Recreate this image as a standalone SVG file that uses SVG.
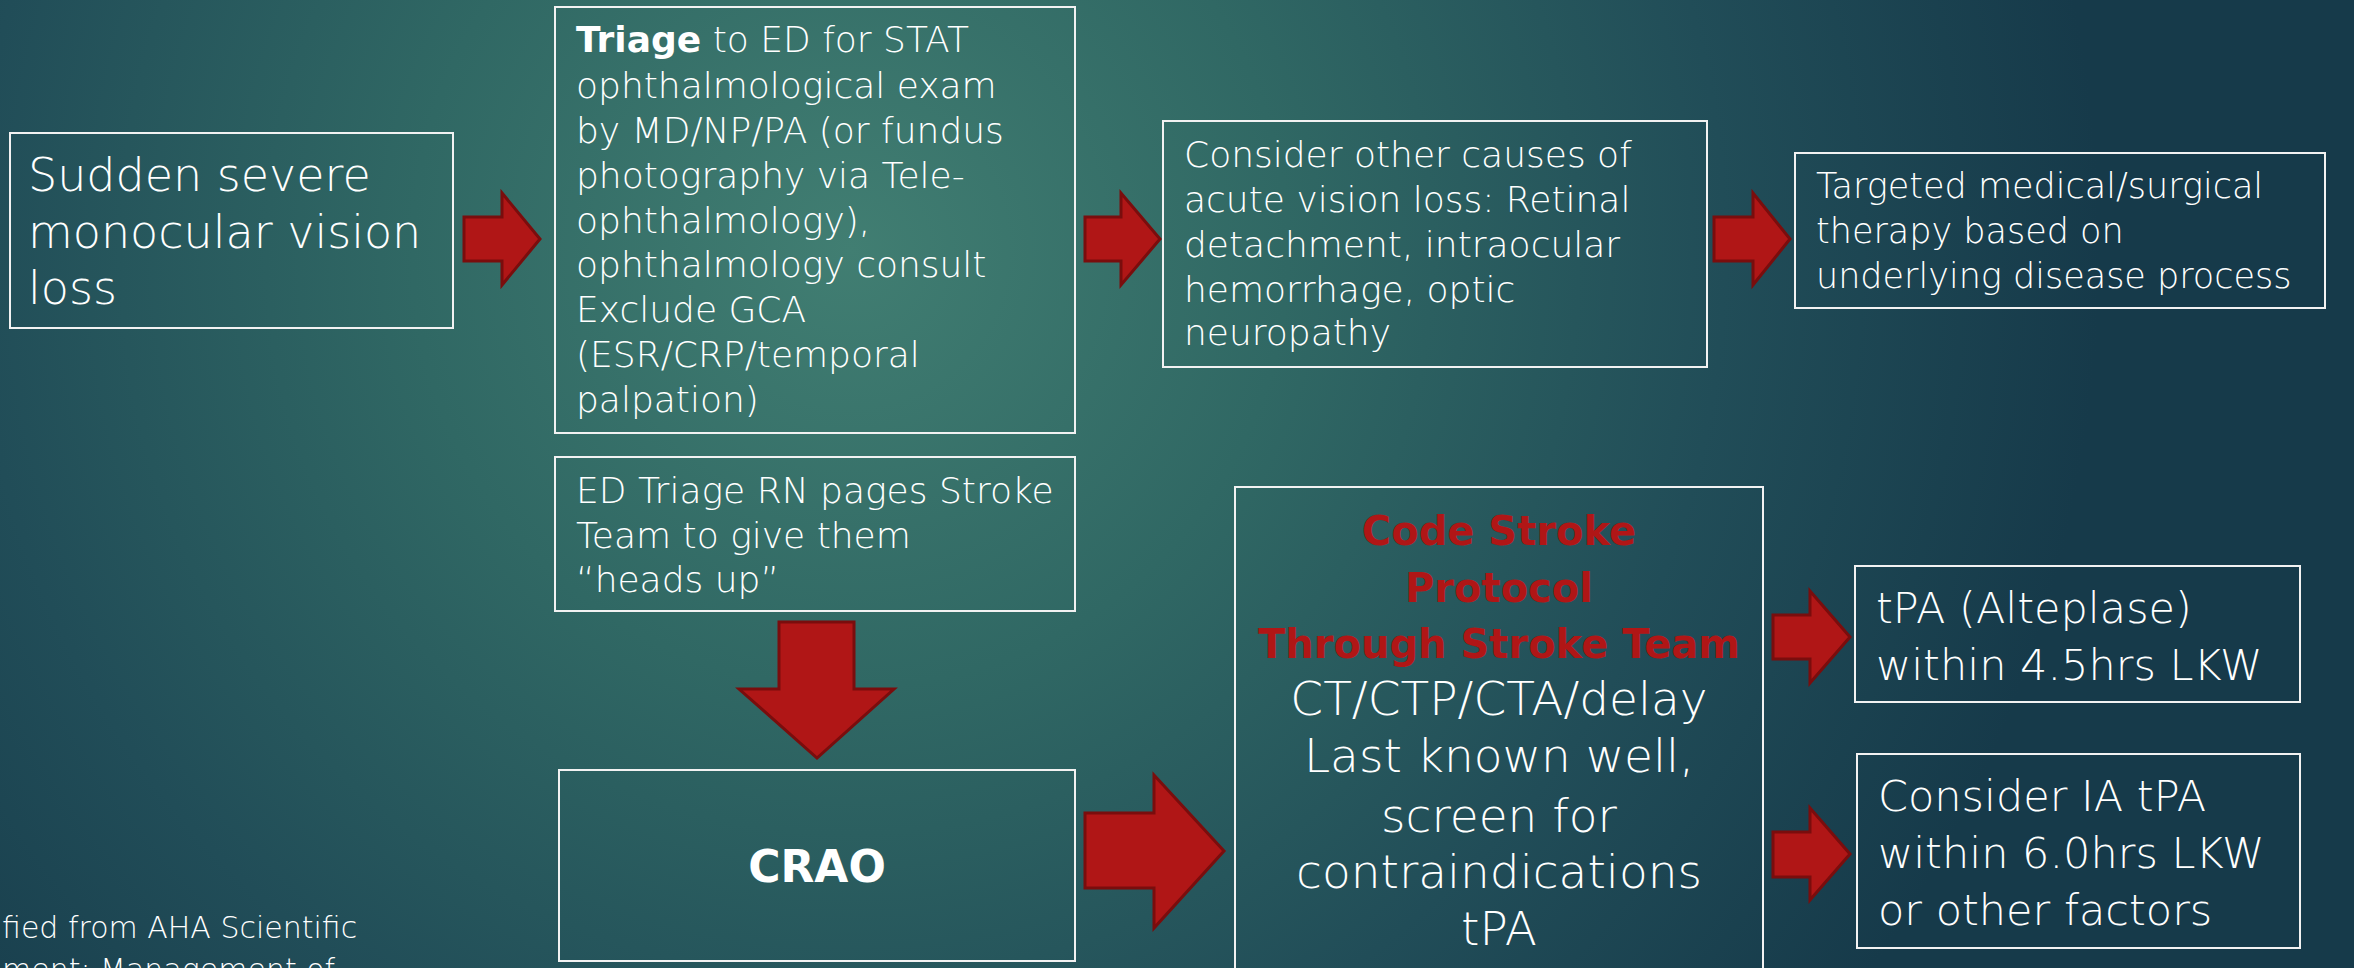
<svg xmlns="http://www.w3.org/2000/svg" width="2354" height="968" viewBox="0 0 2354 968">
<defs>
<radialGradient id="bg" gradientUnits="userSpaceOnUse" cx="850" cy="250" r="1250">
<stop offset="0" stop-color="#417e72"/>
<stop offset="0.35" stop-color="#306864"/>
<stop offset="0.7" stop-color="#214d58"/>
<stop offset="1" stop-color="#163a4a"/>
</radialGradient>
<style>
.box{fill:none;stroke:#f2f2f2;stroke-width:2}
.t{font-family:"DejaVu Sans","Liberation Sans",sans-serif;fill:#ffffff;font-weight:200}
.b{font-weight:bold}
.red{fill:#b01616}
.arrow{fill:#b01616;stroke:#7a0d0d;stroke-width:3}
</style>
</defs>
<rect x="0" y="0" width="2354" height="968" fill="url(#bg)"/>

<g id="connectors">
<path class="arrow" d="M464,217 H502 V193 L540,239 L502,285 V261 H464 Z"/>
<path class="arrow" d="M1085,217 H1121 V193 L1160,239 L1121,285 V261 H1085 Z"/>
<path class="arrow" d="M1714,217 H1753 V193 L1790,239 L1753,285 V261 H1714 Z"/>
<path class="arrow" d="M779,622 H854 V689 H894 L817,758 L739,689 H779 Z"/>
<path class="arrow" d="M1085,813 H1154 V775 L1224,851 L1154,928 V888 H1085 Z"/>
<path class="arrow" d="M1773,615 H1810 V591 L1850,637 L1810,683 V659 H1773 Z"/>
<path class="arrow" d="M1773,832 H1810 V808 L1850,854 L1810,900 V877 H1773 Z"/>
</g>

<g id="sudden">
<rect class="box" x="10" y="133" width="443" height="195"/>
<text class="t" font-size="46"><tspan x="28" y="191">Sudden severe</tspan><tspan x="28" y="248">monocular vision</tspan><tspan x="28" y="304">loss</tspan></text>
</g>

<g id="triage">
<rect class="box" x="555" y="7" width="520" height="426"/>
<text class="t" font-size="36"><tspan x="576" y="52"><tspan class="b">Triage</tspan> to ED for STAT</tspan><tspan x="576" y="98">ophthalmological exam</tspan><tspan x="576" y="143">by MD/NP/PA (or fundus</tspan><tspan x="576" y="188">photography via Tele-</tspan><tspan x="576" y="233">ophthalmology),</tspan><tspan x="576" y="277">ophthalmology consult</tspan><tspan x="576" y="322">Exclude GCA</tspan><tspan x="576" y="367">(ESR/CRP/temporal</tspan><tspan x="576" y="412">palpation)</tspan></text>
</g>

<g id="other-causes">
<rect class="box" x="1163" y="121" width="544" height="246"/>
<text class="t" font-size="36"><tspan x="1184" y="167">Consider other causes of</tspan><tspan x="1184" y="212">acute vision loss: Retinal</tspan><tspan x="1184" y="257">detachment, intraocular</tspan><tspan x="1184" y="302">hemorrhage, optic</tspan><tspan x="1184" y="345">neuropathy</tspan></text>
</g>

<g id="targeted">
<rect class="box" x="1795" y="153" width="530" height="155"/>
<text class="t" font-size="35"><tspan x="1816" y="198">Targeted medical/surgical</tspan><tspan x="1816" y="243">therapy based on</tspan><tspan x="1816" y="288">underlying disease process</tspan></text>
</g>

<g id="ed-triage-rn">
<rect class="box" x="555" y="457" width="520" height="154"/>
<text class="t" font-size="36"><tspan x="576" y="503">ED Triage RN pages Stroke</tspan><tspan x="576" y="548">Team to give them</tspan><tspan x="576" y="592">“heads up”</tspan></text>
</g>

<g id="crao">
<rect class="box" x="559" y="770" width="516" height="191"/>
<text class="t b" font-size="44" text-anchor="middle" x="817" y="882">CRAO</text>
</g>

<g id="code-stroke">
<rect class="box" x="1235" y="487" width="528" height="500"/>
<text class="t b red" font-size="40" text-anchor="middle"><tspan x="1499" y="545">Code Stroke</tspan><tspan x="1499" y="602">Protocol</tspan><tspan x="1499" y="658">Through Stroke Team</tspan></text>
<text class="t" font-size="47" text-anchor="middle"><tspan x="1499" y="715">CT/CTP/CTA/delay</tspan><tspan x="1499" y="772">Last known well,</tspan><tspan x="1499" y="832">screen for</tspan><tspan x="1499" y="888">contraindications</tspan><tspan x="1499" y="945">tPA</tspan></text>
</g>

<g id="tpa">
<rect class="box" x="1855" y="566" width="445" height="136"/>
<text class="t" font-size="43"><tspan x="1876" y="623">tPA (Alteplase)</tspan><tspan x="1876" y="680">within 4.5hrs LKW</tspan></text>
</g>

<g id="ia-tpa">
<rect class="box" x="1857" y="754" width="443" height="194"/>
<text class="t" font-size="43"><tspan x="1878" y="811">Consider IA tPA</tspan><tspan x="1878" y="868">within 6.0hrs LKW</tspan><tspan x="1878" y="925">or other factors</tspan></text>
</g>

<g id="footer">
<text class="t" font-size="30"><tspan x="2" y="938">fied from AHA Scientific</tspan><tspan x="2" y="980">ment: Management of</tspan></text>
</g>
</svg>
